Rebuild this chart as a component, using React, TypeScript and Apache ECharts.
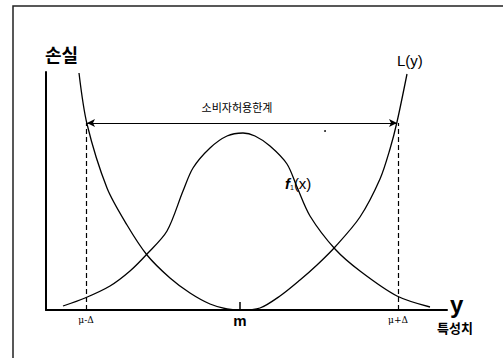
import React, { useEffect, useRef } from "react";
import * as echarts from "echarts";

// Loss curve L(y): x = characteristic (axis units), y = loss
const lossX = [33, 41, 61, 81, 101, 124, 144, 164, 181, 194, 214, 234, 254, 271, 289, 314, 334, 344, 351, 361];
const lossY = [237, 186, 122, 85, 55, 32, 17, 6, 1, 0, 2, 14, 30, 45, 63, 93, 131, 161, 188, 236];

// Distribution f1(x)
const densityX = [17, 39, 64, 84, 101, 121, 137, 147, 164, 181, 197, 209, 224, 241, 251, 264, 289, 314, 351, 384];
const densityY = [4, 12, 24, 39, 56, 79, 119, 142, 162, 174, 177, 174, 164, 146, 123, 94, 61, 39, 14, 3];

// Tick labels on the characteristic axis
const tickValues = [40, 194, 352];
const tickLabels = ["μ-Δ", "m", "μ+Δ"];
const targetTick = [194];

// Consumer tolerance limit
const limitLeft = 40;
const limitRight = 352;
const limitLevel = 187;
const arrowFrom = 41;
const arrowTo = 351;

const xMax = 401;
const yMax = 238;

export default function App() {
  const ref = useRef<HTMLDivElement>(null);
  useEffect(() => {
    document.body.style.margin = "0";
    const chart = echarts.init(ref.current as HTMLDivElement, null, { renderer: "svg" });
    const lat = "'Liberation Sans', Arial, sans-serif";
    const kr = "'Noto Sans CJK KR', sans-serif";
    chart.setOption({
      animation: false,
      backgroundColor: "#ffffff",
      grid: { left: 46, top: 72, width: 401, height: 238 },
      xAxis: {
        type: "value",
        min: 0,
        max: xMax,
        splitLine: { show: false },
        axisLine: { show: true, lineStyle: { color: "#000", width: 2 } },
        axisTick: {
          show: true,
          inside: true,
          length: 8,
          customValues: targetTick,
          lineStyle: { color: "#000", width: 1.5 },
        },
        axisLabel: {
          show: true,
          customValues: tickValues,
          margin: 3,
          formatter: (v: number) => {
            const i = tickValues.indexOf(v);
            const t = i >= 0 ? tickLabels[i] : "";
            return t === "m" ? "{m|" + t + "}" : "{u|" + t + "}";
          },
          rich: {
            m: { fontSize: 15, fontWeight: "bold", fontFamily: lat, color: "#000", lineHeight: 14 },
            u: { fontSize: 9, fontFamily: "'DejaVu Serif', serif", color: "#000", lineHeight: 14 },
          },
        },
      },
      yAxis: {
        type: "value",
        min: 0,
        max: yMax,
        splitLine: { show: false },
        axisLine: { show: true, lineStyle: { color: "#000", width: 2 } },
        axisTick: { show: false },
        axisLabel: { show: false },
      },
      series: [
        {
          name: "L(y)",
          type: "line",
          data: lossX.map((x, i) => [x, lossY[i]]),
          smooth: 0.3,
          symbol: "none",
          clip: false,
          lineStyle: { color: "#000", width: 1.3 },
          markLine: {
            silent: true,
            symbol: ["none", "none"],
            label: { show: false },
            lineStyle: { color: "#000", width: 1.2, type: [5, 3] },
            data: [
              [{ coord: [limitLeft, 0] }, { coord: [limitLeft, limitLevel] }],
              [{ coord: [limitRight, 0] }, { coord: [limitRight, limitLevel] }],
            ],
          },
        },
        {
          name: "f1(x)",
          type: "line",
          data: densityX.map((x, i) => [x, densityY[i]]),
          smooth: 0.3,
          symbol: "none",
          clip: false,
          lineStyle: { color: "#000", width: 1.3 },
          markLine: {
            silent: true,
            symbol: ["arrow", "arrow"],
            symbolSize: [6, 8],
            label: { show: false },
            lineStyle: { color: "#000", width: 1.2, type: "solid" },
            data: [[{ coord: [arrowFrom, limitLevel] }, { coord: [arrowTo, limitLevel] }]],
          },
        },
      ],
      graphic: [
        {
          type: "rect",
          shape: { x: 13, y: 6, width: 600, height: 600 },
          style: { fill: "none", stroke: "#222", lineWidth: 1.5 },
          silent: true,
        },
        {
          type: "text",
          x: 45,
          y: 45,
          style: { text: "손실", font: "bold 18px " + kr, fill: "#000", align: "left", verticalAlign: "top" },
        },
        {
          type: "text",
          x: 397,
          y: 53,
          style: { text: "L(y)", font: "15px " + lat, fill: "#000", align: "left", verticalAlign: "top" },
        },
        {
          type: "text",
          x: 237,
          y: 107,
          style: { text: "소비자허용한계", font: "11px " + kr, fill: "#000", align: "center", verticalAlign: "middle" },
        },
        {
          type: "text",
          x: 285,
          y: 183,
          style: {
            text: "{f|f}{s|1}{p|(x)}",
            align: "left",
            verticalAlign: "middle",
            rich: {
              f: { fontSize: 15, fontStyle: "italic", fontWeight: "bold", fontFamily: lat, fill: "#000", lineHeight: 16 },
              s: { fontSize: 7, fontFamily: lat, fill: "#000", verticalAlign: "bottom", lineHeight: 12 },
              p: { fontSize: 15, fontFamily: lat, fill: "#000", lineHeight: 16 },
            },
          },
        },
        {
          type: "text",
          x: 450,
          y: 292,
          style: { text: "y", font: "bold 24px " + lat, fill: "#000", align: "left", verticalAlign: "top" },
        },
        {
          type: "text",
          x: 437,
          y: 321,
          style: { text: "특성치", font: "bold 13px " + kr, fill: "#000", align: "left", verticalAlign: "top" },
        },
        {
          type: "circle",
          shape: { cx: 325, cy: 131, r: 0.9 },
          style: { fill: "#000" },
          silent: true,
        },
      ],
    });
    return () => chart.dispose();
  }, []);
  return <div ref={ref} style={{ width: 503, height: 358 }} />;
}
